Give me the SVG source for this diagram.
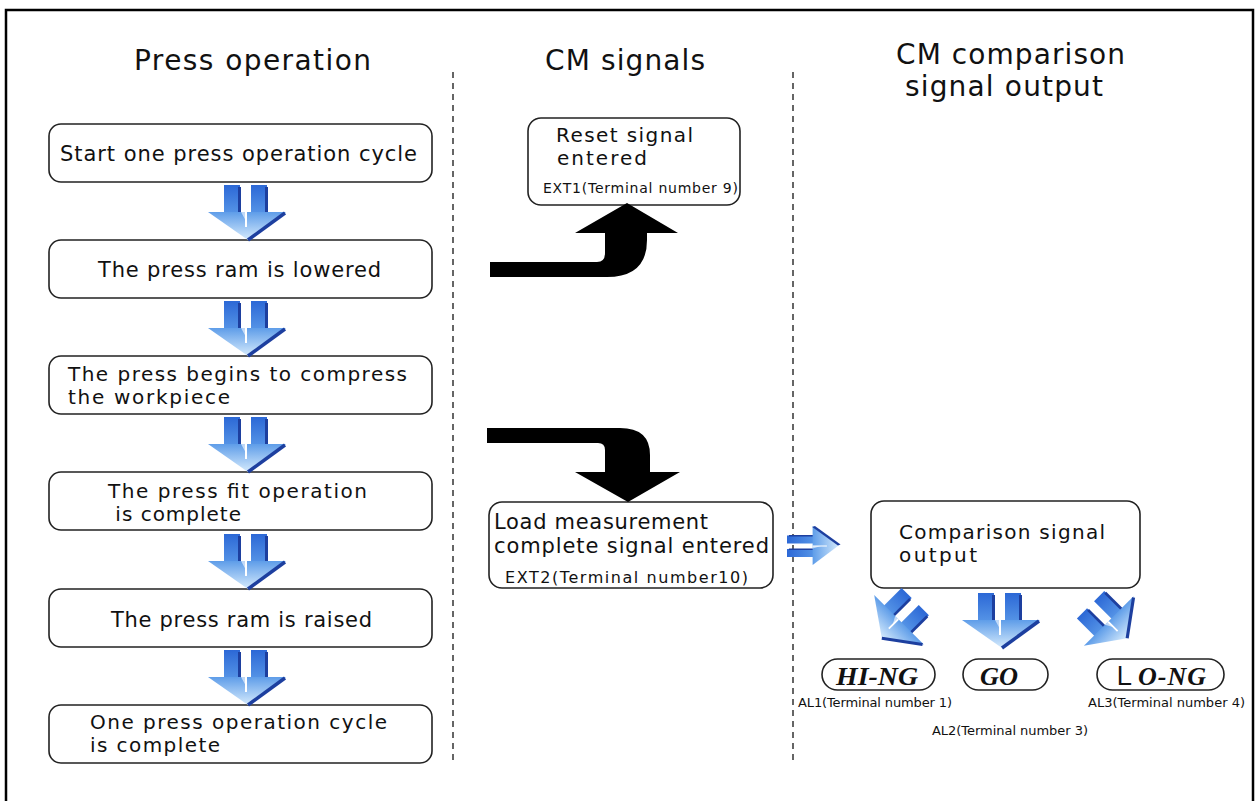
<svg xmlns="http://www.w3.org/2000/svg" width="1255" height="801" viewBox="0 0 1255 801">
<style>
.box{fill:#fff;stroke:#222;stroke-width:1.6}
.t{font-family:"DejaVu Sans","Noto Sans CJK JP",sans-serif;font-size:21px;fill:#111}
.t2{font-family:"DejaVu Sans","Noto Sans CJK JP",sans-serif;font-size:20px;fill:#111}
.h{font-family:"DejaVu Sans","Noto Sans CJK JP",sans-serif;font-size:28px;fill:#111}
.s{font-family:"DejaVu Sans","Noto Sans CJK JP",sans-serif;font-size:13px;fill:#111}
.pill{font-family:"Liberation Serif","Noto Sans CJK JP",serif;font-size:26px;font-weight:bold;font-style:italic;fill:#111}
.dash{stroke:#333;stroke-width:1.5;stroke-dasharray:6 5;fill:none}
.blk{fill:#000}
</style>
<defs>
<linearGradient id="gs" gradientUnits="userSpaceOnUse" x1="0" y1="0" x2="0" y2="56">
<stop offset="0" stop-color="#2c68d6"/><stop offset="0.6" stop-color="#5d9ce9"/><stop offset="1" stop-color="#a9d2f6"/>
</linearGradient>
<linearGradient id="gh" gradientUnits="userSpaceOnUse" x1="0" y1="26" x2="0" y2="56">
<stop offset="0" stop-color="#5a9ae8"/><stop offset="1" stop-color="#d9edfd"/>
</linearGradient>
<g id="barrow">
<rect x="-24" y="0" width="16" height="33" fill="url(#gs)"/>
<rect x="-10" y="2" width="3" height="30" fill="#1d3f9f"/>
<rect x="3" y="0" width="16" height="33" fill="url(#gs)"/>
<rect x="17" y="2" width="3" height="30" fill="#1d3f9f"/>
<polygon points="-40,27 38,27 0,55" fill="url(#gh)"/>
<line x1="37" y1="28" x2="0" y2="55" stroke="#1d3f9f" stroke-width="3.5"/>
<line x1="-2" y1="27" x2="-2" y2="42" stroke="#fff" stroke-width="2"/>
<polygon points="-8,27 -7,27 -2,36 -2,27" fill="#fff" opacity="0.6"/>
</g>
</defs>

<rect x="6" y="10" width="1247" height="800" fill="#fff" stroke="#000" stroke-width="2.5"/>

<g id="headers">
<text class="h" x="134" y="70" textLength="237" lengthAdjust="spacing">Press operation</text>
<text class="h" x="545" y="70" textLength="160" lengthAdjust="spacing">CM signals</text>
<text class="h" x="896" y="64" textLength="229" lengthAdjust="spacing">CM comparison</text>
<text class="h" x="905" y="96" textLength="198" lengthAdjust="spacing">signal output</text>
</g>

<g id="dividers">
<line class="dash" x1="453" y1="72" x2="453" y2="760"/>
<line class="dash" x1="793" y1="72" x2="793" y2="760"/>
</g>

<g id="n1"><rect class="box" x="49" y="124" width="383" height="58" rx="12"/><text class="t" x="60" y="161" textLength="357" lengthAdjust="spacing">Start one press operation cycle</text></g>
<g id="n2"><rect class="box" x="49" y="240" width="383" height="58" rx="12"/><text class="t" x="98" y="277" textLength="283" lengthAdjust="spacing">The press ram is lowered</text></g>
<g id="n3"><rect class="box" x="49" y="356" width="383" height="58" rx="12"/><text class="t2" x="68" y="381" textLength="339" lengthAdjust="spacing">The press begins to compress</text><text class="t2" x="68" y="404" textLength="162" lengthAdjust="spacing">the workpiece</text></g>
<g id="n4"><rect class="box" x="49" y="472" width="383" height="58" rx="12"/><text class="t2" x="108" y="498" textLength="259" lengthAdjust="spacing">The press fit operation</text><text class="t2" x="108" y="521" textLength="133" lengthAdjust="spacing" xml:space="preserve"> is complete</text></g>
<g id="n5"><rect class="box" x="49" y="589" width="383" height="58" rx="12"/><text class="t" x="111" y="627" textLength="261" lengthAdjust="spacing">The press ram is raised</text></g>
<g id="n6"><rect class="box" x="49" y="705" width="383" height="58" rx="12"/><text class="t2" x="90" y="729" textLength="297" lengthAdjust="spacing">One press operation cycle</text><text class="t2" x="90" y="752" textLength="130" lengthAdjust="spacing">is complete</text></g>

<g id="reset"><rect class="box" x="528" y="118" width="212" height="87" rx="13"/><text class="t2" x="556" y="142" textLength="137" lengthAdjust="spacing">Reset signal</text><text class="t2" x="557" y="165" textLength="90" lengthAdjust="spacing">entered</text><text class="s" x="543" y="193" style="font-size:14px" textLength="195" lengthAdjust="spacing">EXT1(Terminal number 9)</text></g>

<g id="load"><rect class="box" x="489" y="502" width="284" height="86" rx="13"/><text class="t" x="494" y="529" textLength="214" lengthAdjust="spacing">Load measurement</text><text class="t" x="494" y="553" textLength="275" lengthAdjust="spacing">complete signal entered</text><text class="s" x="505" y="583" style="font-size:16px" textLength="243" lengthAdjust="spacing">EXT2(Terminal number10)</text></g>

<g id="compare"><rect class="box" x="871" y="501" width="269" height="87" rx="13"/><text class="t2" x="899" y="539" textLength="206" lengthAdjust="spacing">Comparison signal</text><text class="t2" x="899" y="562" textLength="78" lengthAdjust="spacing">output</text></g>

<g id="hing"><rect class="box" x="822" y="659" width="113" height="31" rx="15.5"/><text class="pill" x="836" y="685" textLength="82" lengthAdjust="spacingAndGlyphs">HI-NG</text><text class="s" x="798" y="707" textLength="154" lengthAdjust="spacing">AL1(Terminal number 1)</text></g>
<g id="go"><rect class="box" x="963" y="659" width="85" height="31" rx="15.5"/><text class="pill" x="980" y="685" textLength="38" lengthAdjust="spacingAndGlyphs">GO</text><text class="s" x="932" y="735" textLength="156" lengthAdjust="spacing">AL2(Terminal number 3)</text></g>
<g id="long"><rect class="box" x="1097" y="659" width="127" height="31" rx="15.5"/><text class="pill" x="1111" y="685" textLength="95" lengthAdjust="spacing"><tspan font-style="normal" font-weight="normal" font-family="Noto Sans CJK JP,sans-serif">Ｌ</tspan>O-NG</text><text class="s" x="1088" y="707" textLength="157" lengthAdjust="spacing">AL3(Terminal number 4)</text></g>

<g id="connectors">
<use href="#barrow" transform="translate(248,185)"/>
<use href="#barrow" transform="translate(248,301)"/>
<use href="#barrow" transform="translate(248,417)"/>
<use href="#barrow" transform="translate(248,534)"/>
<use href="#barrow" transform="translate(248,650)"/>
<use href="#barrow" transform="translate(787,545) rotate(-90) scale(0.5,0.95)"/>
<use href="#barrow" transform="translate(1002,593)"/>
<use href="#barrow" transform="translate(899,621) rotate(45) scale(0.9) translate(0,-28)"/>
<use href="#barrow" transform="translate(1110,621) rotate(-45) scale(0.9) translate(0,-28)"/>
<path class="blk" d="M490,262 L597,262 Q605,262 605,253 L605,233 L575,233 L627,203 L678,233 L647,233 L647,240 Q647,277 607,277 L490,277 Z"/>
<path class="blk" d="M487,428 L620,428 Q650,428 650,455 L650,472 L680,472 L628,502 L575,472 L605,472 L605,450 Q605,443 598,443 L487,443 Z"/>
</g>
</svg>
